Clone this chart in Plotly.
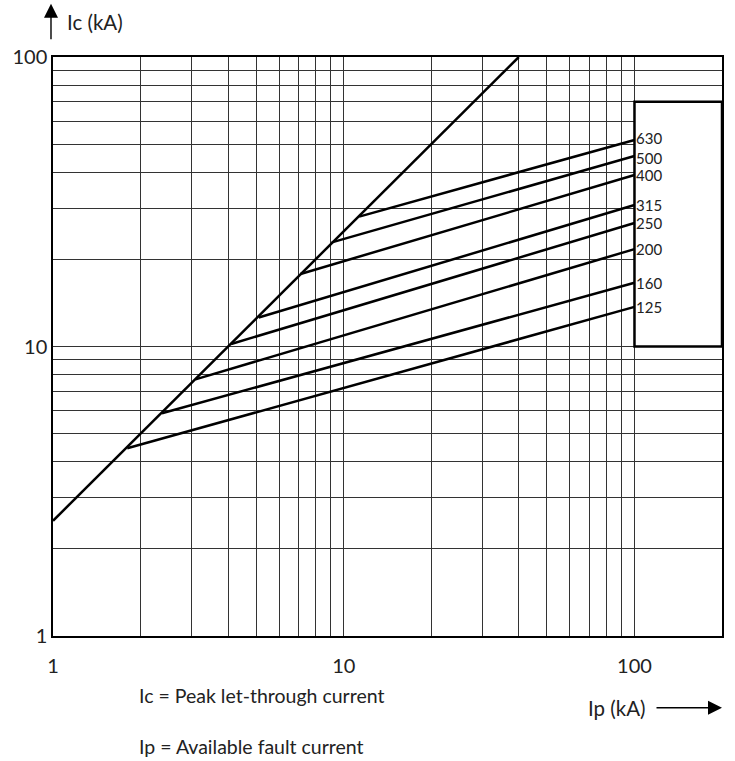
import plotly.graph_objects as go
import math

# ---- data ----
diag_ip = [1, 40]
diag_ic = [2.5, 100]

ratings = ["125", "160", "200", "250", "315", "400", "500", "630"]
start_ip = [1.8, 2.37, 3.09, 4.1, 5.1, 7.1, 9.1, 11.3]
start_ic = [4.45, 5.88, 7.7, 10.2, 12.6, 17.8, 22.9, 28.1]
end_ip = [100, 100, 100, 100, 100, 100, 100, 100]
end_ic = [13.7, 16.6, 21.7, 26.7, 30.8, 39.1, 45.5, 51.7]

x_grid = [1, 2, 3, 4, 5, 6, 7, 8, 9, 10, 20, 30, 40, 50, 60, 70, 80, 90, 100, 200]
x_text = ["1", "", "", "", "", "", "", "", "", "10", "", "", "", "", "", "", "", "", "100", ""]
y_grid = [1, 2, 3, 4, 5, 6, 7, 8, 9, 10, 20, 30, 40, 50, 60, 70, 80, 90, 100]
y_text = ["1", "", "", "", "", "", "", "", "", "10", "", "", "", "", "", "", "", "", "100"]

box_x = [100, 200]
box_y = [10, 70]

# small vertical nudges (px) of the rating labels
label_shift = [0, 0, 0, 0, 0, 0, -1.5, 2]

FONT = "Lato"
TXT = "#222222"

fig = go.Figure()

fig.add_trace(go.Scatter(x=diag_ip, y=diag_ic, mode="lines",
                         line=dict(color="black", width=2.5), showlegend=False,
                         hoverinfo="skip"))

for r, x0, y0, x1, y1 in zip(ratings, start_ip, start_ic, end_ip, end_ic):
    fig.add_trace(go.Scatter(x=[x0, x1], y=[y0, y1], mode="lines",
                             line=dict(color="black", width=2.5),
                             showlegend=False, name=r, hoverinfo="skip"))

# white box with black frame
fig.add_shape(type="rect", xref="x", yref="y",
              x0=box_x[0], x1=box_x[1], y0=box_y[0], y1=box_y[1],
              fillcolor="white", line=dict(color="black", width=2.5),
              layer="above")

for r, y1, ys in zip(ratings, end_ic, label_shift):
    fig.add_annotation(x=math.log10(100), y=math.log10(y1), xref="x", yref="y",
                       text=r, showarrow=False, xanchor="left", yanchor="middle",
                       xshift=0, yshift=ys, font=dict(family=FONT, size=15, color=TXT))

# axis titles as annotations with arrows
fig.add_annotation(xref="paper", yref="paper", x=0.018, y=1.060, text="Ic (kA)",
                   showarrow=False, xanchor="left", yanchor="middle",
                   font=dict(family=FONT, size=20.5, color=TXT))
fig.add_annotation(xref="paper", yref="paper", x=-0.003, y=1.092, text="",
                   showarrow=True, axref="pixel", ayref="pixel", ax=0, ay=37,
                   arrowhead=2, arrowsize=2.0, arrowwidth=1.4, arrowcolor="black")

fig.add_annotation(xref="paper", yref="paper", x=0.889, y=-0.124, text="Ip (kA)",
                   showarrow=False, xanchor="right", yanchor="middle",
                   font=dict(family=FONT, size=20.5, color=TXT))
fig.add_annotation(xref="paper", yref="paper", x=1.0, y=-0.124, text="",
                   showarrow=True, axref="pixel", ayref="pixel", ax=-67, ay=0,
                   arrowhead=2, arrowsize=2.0, arrowwidth=1.4, arrowcolor="black")

fig.add_annotation(xref="paper", yref="paper", x=0.125, y=-0.102,
                   text="Ic = Peak let-through current",
                   showarrow=False, xanchor="left", yanchor="middle",
                   font=dict(family=FONT, size=19.5, color=TXT))
fig.add_annotation(xref="paper", yref="paper", x=0.125, y=-0.190,
                   text="Ip = Available fault current",
                   showarrow=False, xanchor="left", yanchor="middle",
                   font=dict(family=FONT, size=19.5, color=TXT))

fig.update_xaxes(type="log", range=[0, math.log10(200)],
                 tickvals=x_grid, ticktext=x_text, ticks="",
                 ticklabelstandoff=11,
                 showgrid=True, gridcolor="#333333", gridwidth=1,
                 showline=True, linecolor="black", linewidth=1.5, mirror=True,
                 zeroline=False, automargin=False,
                 tickfont=dict(family=FONT, size=20, color=TXT))
fig.update_yaxes(type="log", range=[0, 2],
                 tickvals=y_grid, ticktext=y_text, ticks="",
                 ticklabelstandoff=0,
                 showgrid=True, gridcolor="#333333", gridwidth=1,
                 showline=True, linecolor="black", linewidth=1.5, mirror=True,
                 zeroline=False, automargin=False,
                 tickfont=dict(family=FONT, size=20, color=TXT))

fig.update_layout(width=735, height=761,
                  margin=dict(l=53, r=13, t=57, b=125),
                  plot_bgcolor="white", paper_bgcolor="white",
                  showlegend=False)

# remove the default page margin so the figure fills the window exactly
fig.write_html("out.html",
               config={"displayModeBar": False},
               post_script="document.body.style.margin='0';"
                           "document.body.style.overflow='hidden';")
